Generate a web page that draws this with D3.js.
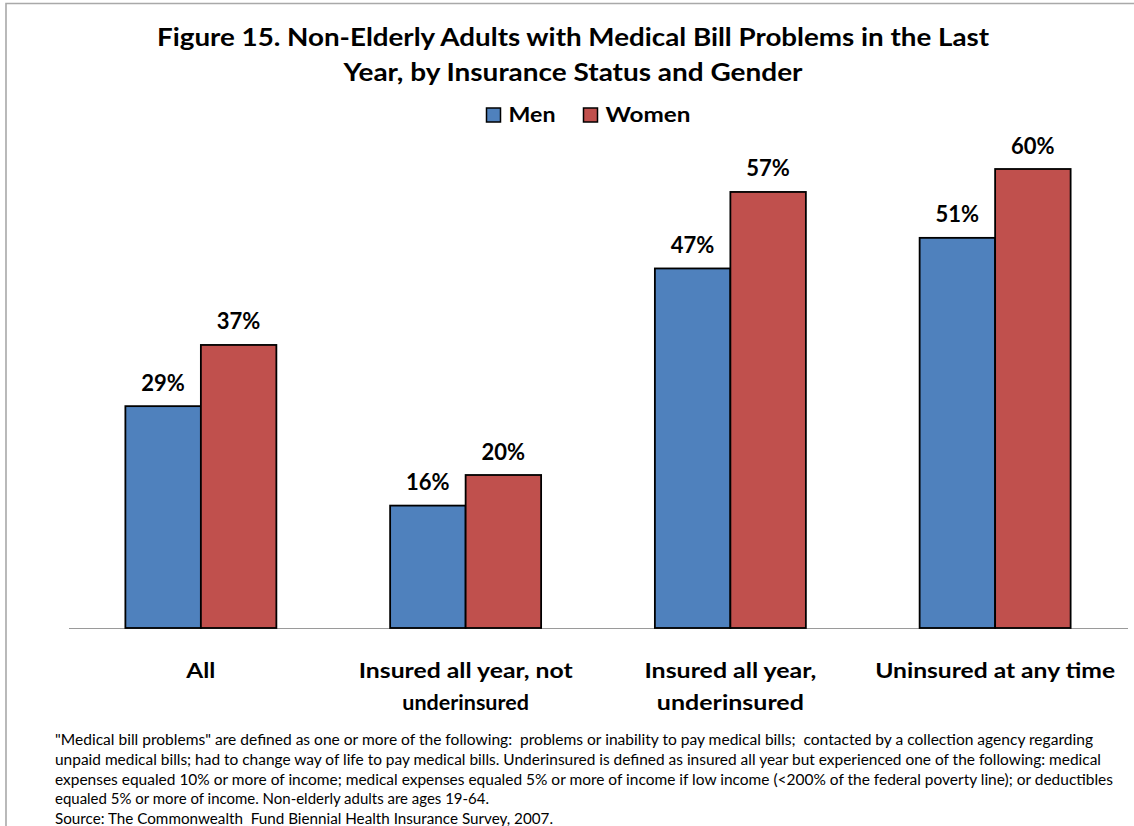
<!DOCTYPE html>
<html><head><meta charset="utf-8">
<script src="https://cdn.jsdelivr.net/npm/d3@7"></script>
<style>html,body{margin:0;padding:0;background:#fff;} svg{display:block;} text{white-space:pre;}</style>
</head><body>
<script>
const categories = [["All"], ["Insured all year, not", "underinsured"], ["Insured all year,", "underinsured"], ["Uninsured at any time"]];
const seriesNames = ["Men", "Women"];
const menValues = [29, 16, 47, 51];
const womenValues = [37, 20, 57, 60];
const colors = ["#4F81BD", "#C0504D"];
const titleLines = ["Figure 15. Non-Elderly Adults with Medical Bill Problems in the Last", "Year, by Insurance Status and Gender"];
const footnoteLines = [
  "\"Medical bill problems\" are defined as one or more of the following:  problems or inability to pay medical bills;  contacted by a collection agency regarding",
  "unpaid medical bills; had to change way of life to pay medical bills. Underinsured is defined as insured all year but experienced one of the following: medical",
  "expenses equaled 10% or more of income; medical expenses equaled 5% or more of income if low income (<200% of the federal poverty line); or deductibles",
  "equaled 5% or more of income. Non-elderly adults are ages 19-64.",
  "Source: The Commonwealth  Fund Biennial Health Insurance Survey, 2007."
];

const W = 1134, H = 826;
const svg = d3.select("body").append("svg").attr("width", W).attr("height", H);
const font = "Lato, 'Open Sans', sans-serif";

// frame
svg.append("path").attr("d", `M6,${H} L6,3.5 L${W},3.5`).attr("fill", "none").attr("stroke", "#a9a9a9").attr("stroke-width", 1.6);

// title
const titleLens = [832, 459];
const titleY = [45.5, 80.5];
titleLines.forEach((t, i) => {
  svg.append("text").attr("x", 573).attr("y", titleY[i]).attr("text-anchor", "middle")
    .attr("font-family", font).attr("font-weight", "bold").attr("font-size", 25).attr("fill", "#000")
    .attr("textLength", titleLens[i]).attr("lengthAdjust", "spacingAndGlyphs").text(t);
});

// legend
const legendX = [486.5, 583.5];
const legendTextW = [47, 85];
seriesNames.forEach((s, i) => {
  svg.append("rect").attr("x", legendX[i]).attr("y", 108).attr("width", 14).attr("height", 14)
    .attr("fill", colors[i]).attr("stroke", "#000").attr("stroke-width", 1.5);
  svg.append("text").attr("x", legendX[i] + 22).attr("y", 121.5).attr("font-family", font)
    .attr("font-weight", "bold").attr("font-size", 20).attr("fill", "#000")
    .attr("textLength", legendTextW[i]).attr("lengthAdjust", "spacingAndGlyphs").text(s);
});

// scales
const x0 = d3.scaleBand().domain(d3.range(categories.length)).range([68.5, 1127.5]).paddingInner(0.4297).paddingOuter(0.21485);
const x1 = d3.scaleBand().domain(d3.range(seriesNames.length)).range([0, x0.bandwidth()]);
const y = d3.scaleLinear().domain([0, 70]).range([628, 628 - 7.65 * 70]);

// axis baseline
const xAxis = d3.axisBottom(x0).tickSize(0).tickFormat("");
const ax = svg.append("g").attr("transform", `translate(0,${y(0)})`).call(xAxis);
ax.select(".domain").attr("stroke", "#9a9a9a").attr("stroke-width", 1.2);

const data = [menValues, womenValues];
const groups = svg.append("g").selectAll("g").data(categories).join("g")
  .attr("transform", (d, i) => `translate(${x0(i)},0)`);

groups.selectAll("rect").data((d, i) => data.map((vals, s) => ({ s, v: vals[i] }))).join("rect")
  .attr("x", d => x1(d.s)).attr("y", d => y(d.v))
  .attr("width", x1.bandwidth()).attr("height", d => y(0) - y(d.v))
  .attr("fill", d => colors[d.s]).attr("stroke", "#000").attr("stroke-width", 1.8);

groups.selectAll("text.val").data((d, i) => data.map((vals, s) => ({ s, v: vals[i] }))).join("text")
  .attr("class", "val")
  .attr("x", d => x1(d.s) + x1.bandwidth() / 2).attr("y", d => y(d.v) - 15.5)
  .attr("text-anchor", "middle").attr("font-family", font).attr("font-weight", "bold")
  .attr("font-size", 22).attr("fill", "#000").text(d => d.v + "%");

// category labels
const catWidths = [[29], [214], [172, 147], [240]];
groups.each(function(lines, i) {
  const g = d3.select(this);
  lines.forEach((l, j) => {
    g.append("text").attr("x", x0.bandwidth() / 2).attr("y", 678 + j * 32)
      .attr("text-anchor", "middle").attr("font-family", font).attr("font-weight", "bold")
      .attr("font-size", 21.5).attr("fill", "#000")
      .attr("textLength", catWidths[i][j]).attr("lengthAdjust", "spacingAndGlyphs").text(l);
  });
});

// footnote
const footEnds = [1093, 1101, 1113, 489, 553];
footnoteLines.forEach((t, i) => {
  svg.append("text").attr("x", 55).attr("y", 745 + i * 19.8).attr("font-family", font)
    .attr("font-size", 14.5).attr("fill", "#000")
    .attr("textLength", footEnds[i] - 55).attr("lengthAdjust", "spacingAndGlyphs").text(t);
});
</script>
</body></html>
